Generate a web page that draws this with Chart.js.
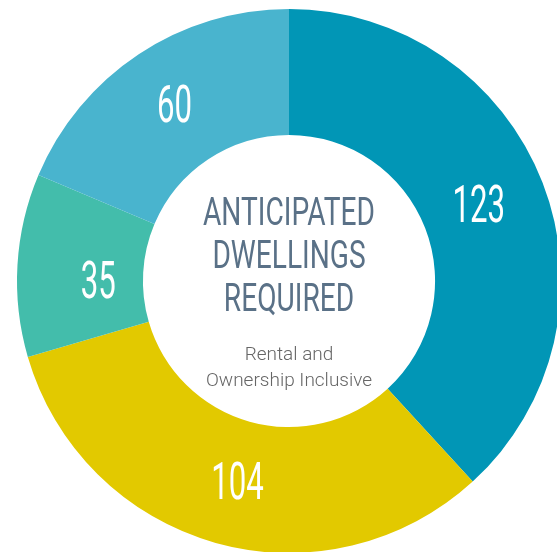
<!DOCTYPE html>
<html>
<head>
<meta charset="utf-8">
<script src="https://cdn.jsdelivr.net/npm/chart.js@4"></script>
<style>
  html, body { margin: 0; padding: 0; background: #fff; overflow: hidden; width: 557px; height: 552px; }
  #wrap { position: absolute; left: 0; top: 0; width: 578px; height: 562px; }
</style>
</head>
<body>
<div id="wrap"><canvas id="dwellings" width="578" height="562"></canvas></div>
<script>
// dwellings by segment, clockwise from 12 o'clock
const segments = ["Segment 1", "Segment 2", "Segment 3", "Segment 4"];
const dwellings = [123, 104, 35, 60];
const segmentColors = ["#0196b6", "#e2c900", "#43bdab", "#49b4ce"];

const titleLines = ["ANTICIPATED", "DWELLINGS", "REQUIRED"];
const subtitleLines = ["Rental and", "Ownership Inclusive"];

// draw text squeezed horizontally (condensed look)
function narrowText(ctx, txt, x, y, sx) {
  ctx.save();
  ctx.translate(x, y);
  ctx.scale(sx, 1);
  ctx.fillText(txt, 0, 0);
  ctx.restore();
}

// small hand nudges so the numbers sit where the original put them
const nudge = [[-5, 2], [5, 2], [18, 14], [1, 0]];

const sliceLabels = {
  id: "sliceLabels",
  afterDatasetsDraw(chart) {
    const ctx = chart.ctx;
    const meta = chart.getDatasetMeta(0);
    ctx.save();
    ctx.fillStyle = "#ffffff";
    ctx.font = "400 52px Roboto";
    ctx.textAlign = "center";
    ctx.textBaseline = "middle";
    meta.data.forEach((arc, i) => {
      const p = arc.getCenterPoint();
      narrowText(ctx, String(chart.data.datasets[0].data[i]), p.x + nudge[i][0], p.y + 2 + nudge[i][1], 0.6);
    });
    ctx.restore();
  }
};

const centerText = {
  id: "centerText",
  afterDraw(chart) {
    const ctx = chart.ctx;
    const a = chart.chartArea;
    const cx = (a.left + a.right) / 2;
    const cy = (a.top + a.bottom) / 2;
    ctx.save();
    ctx.textAlign = "center";
    ctx.textBaseline = "middle";
    ctx.fillStyle = "#5a7187";
    ctx.font = "400 38px Roboto";
    titleLines.forEach((t, i) => {
      narrowText(ctx, t, cx, cy - 66 + i * 43, 0.74);
    });
    ctx.fillStyle = "#666666";
    ctx.font = "300 19px Roboto";
    subtitleLines.forEach((t, i) => {
      ctx.fillText(t, cx, cy + 74 + i * 26);
    });
    ctx.restore();
  }
};

new Chart(document.getElementById("dwellings"), {
  type: "doughnut",
  data: {
    labels: segments,
    datasets: [{
      data: dwellings,
      backgroundColor: segmentColors,
      borderWidth: 0,
      hoverOffset: 0
    }]
  },
  options: {
    responsive: false,
    animation: false,
    cutout: "53.7%",
    rotation: 0,
    layout: { padding: 9 },
    plugins: {
      legend: { display: false },
      tooltip: { enabled: false }
    }
  },
  plugins: [sliceLabels, centerText]
});
</script>
</body>
</html>
